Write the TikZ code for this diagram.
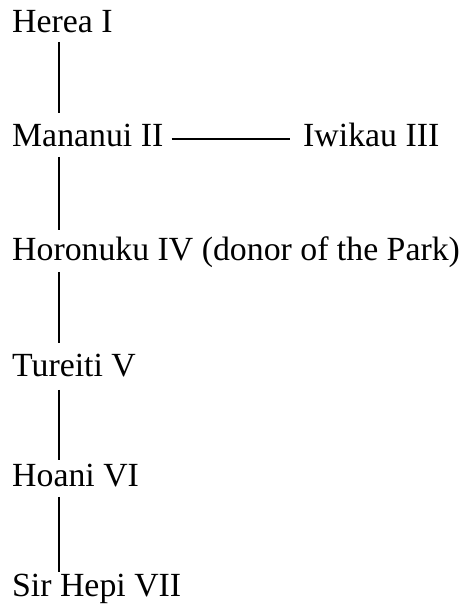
\documentclass[tikz,border=0pt]{standalone}
\usepackage{fontspec}
\setmainfont{Liberation Serif}
\begin{document}
\begin{tikzpicture}[x=1pt,y=1pt,
  person/.style={anchor=base west, inner sep=0pt, font=\fontsize{33.8}{40}\selectfont},
  link/.style={line width=1.8pt}]
\useasboundingbox (0,0) rectangle (462,607);
\coordinate (spine) at (59,0);
\node[person] (herea) at (12,574) {Herea I};
\node[person] (mananui) at (12,460) {Mananui II};
\node[person] (iwikau) at (303,460) {Iwikau III};
\node[person] (horonuku) at (12,346) {Horonuku IV (donor of the Park)};
\node[person] (tureiti) at (12,230) {Tureiti V};
\node[person] (hoani) at (12,120) {Hoani VI};
\node[person] (hepi) at (12,10) {Sir Hepi VII};
\draw[link] ([yshift=-9]herea.base -| spine) -- ([yshift=34]mananui.base -| spine);
\draw[link] ([yshift=-10]mananui.base -| spine) -- ([yshift=31]horonuku.base -| spine);
\draw[link] ([yshift=-11]horonuku.base -| spine) -- ([yshift=34]tureiti.base -| spine);
\draw[link] ([yshift=-13]tureiti.base -| spine) -- ([yshift=27]hoani.base -| spine);
\draw[link] ([yshift=-10]hoani.base -| spine) -- ([yshift=25]hepi.base -| spine);
\draw[link] ([xshift=8,yshift=8]mananui.base east) -- ([xshift=-13,yshift=8]iwikau.base west);
\end{tikzpicture}
\end{document}
